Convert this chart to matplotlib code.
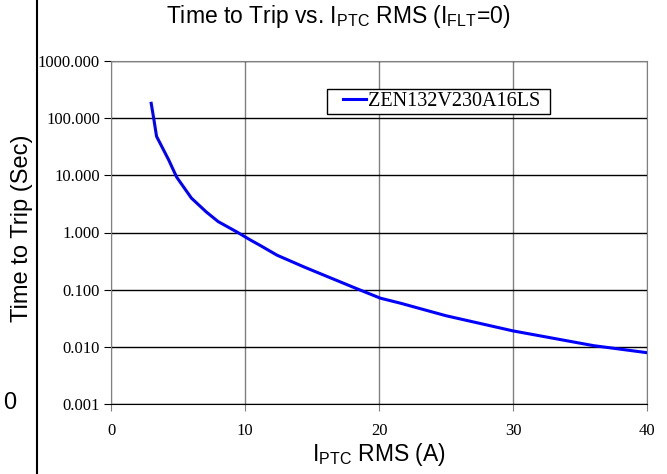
import matplotlib
matplotlib.use("Agg")
import matplotlib.pyplot as plt
from matplotlib.patches import Rectangle
from matplotlib.ticker import FixedLocator, FormatStrFormatter

# Trip curve
current = [3.0, 3.2, 3.4, 4.3, 4.9, 6.0, 7.1, 8.0, 9.4, 10.4, 11.1, 12.4,
           14.4, 15.4, 18.3, 20.1, 21.6, 25.0, 30.0, 36.0, 40.0]
trip_time = [182, 95, 48, 18.7, 9.3, 4.0, 2.3, 1.55, 1.02, 0.74, 0.60, 0.40,
             0.25, 0.20, 0.105, 0.071, 0.058, 0.035, 0.019, 0.0105, 0.0079]
series_name = "ZEN132V230A16LS"
x_ticks = [0, 10, 20, 30, 40]
y_ticks = [0.001, 0.01, 0.1, 1, 10, 100, 1000]

W, H = 667, 474
fig = plt.figure(figsize=(W / 100, H / 100), dpi=100)
ax = fig.add_axes([111 / W, 70 / H, 536 / W, 343 / H])

ax.plot(current, trip_time, color="#0000ff", lw=2.2, label=series_name)
ax.set_yscale("log")
ax.set_xlim(0, 40)
ax.set_ylim(0.001, 1000)

ax.yaxis.set_major_locator(FixedLocator(y_ticks))
ax.yaxis.set_minor_locator(FixedLocator([]))
ax.yaxis.set_major_formatter(FormatStrFormatter("%.3f"))
ax.xaxis.set_major_locator(FixedLocator(x_ticks))

# horizontal grid black, vertical grid grey
ax.grid(axis="y", color="black", lw=1.0)
ax.grid(axis="x", color="#808080", lw=1.0)
ax.set_axisbelow(True)

for s in ["top", "right", "left"]:
    ax.spines[s].set_color("#808080")
ax.spines["bottom"].set_color("black")

ax.tick_params(axis="y", direction="out", length=5, color="black",
               labelsize=12, pad=3)
ax.tick_params(axis="x", direction="out", length=5, color="#808080",
               labelsize=12, pad=9)
for lab in ax.get_xticklabels() + ax.get_yticklabels():
    lab.set_fontfamily("Liberation Serif")

# legend without its own frame, white box drawn separately (wider padding like Excel)
ax.legend(loc="center left", bbox_to_anchor=(343 / W, 1 - 101.5 / H),
          bbox_transform=fig.transFigure,
          prop={"family": "Liberation Serif", "size": 14.5},
          frameon=False, handlelength=1.14, handletextpad=0.1,
          borderpad=0, borderaxespad=0)
ax.add_patch(Rectangle((327 / W, 1 - 114 / H), 223 / W, 25 / H,
                       transform=fig.transFigure, facecolor="white",
                       edgecolor="black", lw=1.0, zorder=4.9, clip_on=False))

fig.text(338 / W, 1 - 17 / H,
         r"Time to Trip vs. $\mathregular{I_{PTC}}$ RMS ($\mathregular{I_{FLT}}$=0)",
         ha="center", va="center", family="Liberation Sans", fontsize=16.5)
fig.text(379 / W, 1 - 454 / H, r"$\mathregular{I_{PTC}}$ RMS (A)",
         ha="center", va="center", family="Liberation Sans", fontsize=16.5)
fig.text(22 / W, 1 - 228 / H, "Time to Trip (Sec)", rotation=90,
         ha="center", va="center", family="Liberation Sans", fontsize=17)
fig.text(10 / W, 1 - 403 / H, "0", ha="center", va="center",
         family="Liberation Sans", fontsize=17)

# vertical border line on the left of the page
fig.add_artist(plt.Line2D([37 / W, 37 / W], [0, 1], color="black", lw=1.5))

fig.savefig("out.png", dpi=100)
